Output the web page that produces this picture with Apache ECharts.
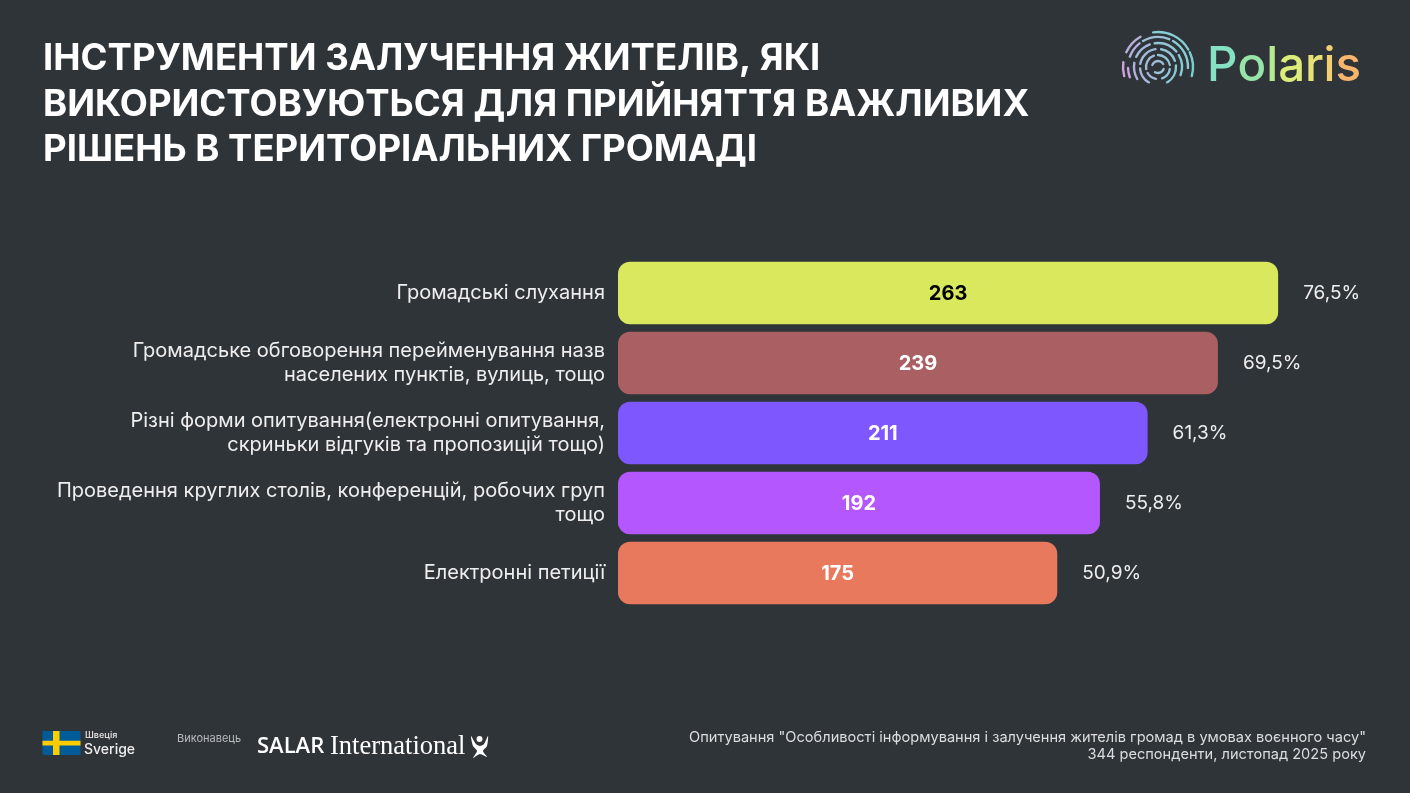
<!DOCTYPE html>
<html>
<head>
<meta charset="utf-8">
<title>Polaris</title>
<style>
  html, body { margin: 0; padding: 0; background: #2f3439; }
  #chart { width: 1410px; height: 793px; }
</style>
</head>
<body>
<div id="chart"></div>
<script src="https://cdn.jsdelivr.net/npm/echarts@6/dist/echarts.min.js"></script>
<script>
var categories = [
  'Громадські слухання',
  'Громадське обговорення перейменування назв\nнаселених пунктів, вулиць, тощо',
  'Різні форми опитування(електронні опитування,\nскриньки відгуків та пропозицій тощо)',
  'Проведення круглих столів, конференцій, робочих груп\nтощо',
  'Електронні петиції'
];
var counts = [263, 239, 211, 192, 175];
var percents = ['76,5%', '69,5%', '61,3%', '55,8%', '50,9%'];
var barColors = ['#d9e85c', '#aa6063', '#7f57ff', '#b557ff', '#e9795c'];

var titleText = 'ІНСТРУМЕНТИ ЗАЛУЧЕННЯ ЖИТЕЛІВ, ЯКІ\nВИКОРИСТОВУЮТЬСЯ ДЛЯ ПРИЙНЯТТЯ ВАЖЛИВИХ\nРІШЕНЬ В ТЕРИТОРІАЛЬНИХ ГРОМАДІ';
var footerText = 'Опитування "Особливості інформування і залучення жителів громад в умовах воєнного часу"\n344 респонденти, листопад 2025 року';

var FONT = 'Inter, "Noto Sans", sans-serif';
var BG = '#2f3439';

// логотип: r, початок, кінець (градуси), колір
var logoArcs = [
  [35, 165, 188, '#d0a4da'], [35, 205, 240, '#b8aedc'], [35, 262, 330, '#86cdd4'], [35, 335, 375, '#79cfd0'],
  [30, 160, 178, '#c9a3dc'], [30, 200, 232, '#b3b0dc'], [30, 240, 292, '#9cc0d8'], [30, 300, 362, '#8accd4'],
  [24, 150, 190, '#b0b2dc'], [24, 205, 250, '#a4b8da'], [24, 262, 320, '#92c6d6'], [24, 330, 380, '#88cad4'],
  [18, 120, 175, '#a8b6da'], [18, 190, 262, '#a0bcd8'], [18, 280, 340, '#92c4d6'], [18, 355, 420, '#8cc8d4'],
  [12, 100, 150, '#a4bad8'], [12, 170, 250, '#a0bcd8'], [12, 270, 350, '#96c2d6'], [12, 10, 70, '#92c4d6'],
  [6, 200, 330, '#a0bcd8'], [6, 20, 120, '#9cc0d8']
];

// у текстів немає градієнта, тому колір по літерах
var logoLetters = ['P', 'o', 'l', 'a', 'r', 'i', 's'];
var logoColors = ['#86e0c2', '#98e4a8', '#b8e98e', '#dcec7a', '#e6e276', '#efcf72', '#f5b56c'];

var logoRich = {};
logoLetters.forEach(function (c, i) {
  logoRich['l' + i] = { fill: logoColors[i], font: '500 47.5px ' + FONT };
});
var logoText = logoLetters.map(function (c, i) { return '{l' + i + '|' + c + '}'; }).join('');

var graphicEls = logoArcs.map(function (a) {
  return {
    type: 'arc',
    z: 5,
    shape: { cx: 1158, cy: 67, r: a[0], startAngle: a[1] * Math.PI / 180, endAngle: a[2] * Math.PI / 180 },
    style: { stroke: a[3], lineWidth: 2.4, fill: null, lineCap: 'round' }
  };
});

graphicEls.push(
  // низ логотипа обрізаний
  { type: 'rect', z: 6, shape: { x: 1115, y: 83.5, width: 85, height: 30 }, style: { fill: BG } },
  {
    type: 'text', z: 7, x: 1207, y: 67,
    style: { text: logoText, rich: logoRich, font: '500 47.5px ' + FONT, textVerticalAlign: 'middle' }
  },
  // прапор
  { type: 'rect', z: 5, shape: { x: 42.5, y: 731, width: 38, height: 24 }, style: { fill: '#005b99' } },
  { type: 'rect', z: 6, shape: { x: 53, y: 731, width: 6.5, height: 24 }, style: { fill: '#fecc00' } },
  { type: 'rect', z: 6, shape: { x: 42.5, y: 740.8, width: 38, height: 4.8 }, style: { fill: '#fecc00' } },
  { type: 'text', z: 7, x: 85, y: 735, style: { text: 'Швеція', font: '600 9px ' + FONT, fill: '#d8d8d8', textVerticalAlign: 'middle' } },
  { type: 'text', z: 7, x: 84, y: 750, style: { text: 'Sverige', font: '500 14px ' + FONT, fill: '#eeeeee', textVerticalAlign: 'middle' } },
  { type: 'text', z: 7, x: 177, y: 739, style: { text: 'Виконавець', font: '400 11px ' + FONT, fill: '#b9bcbe', textVerticalAlign: 'middle' } },
  { type: 'text', z: 7, x: 257, y: 747, style: { text: 'SALAR', font: '600 22px "Open Sans", sans-serif', fill: '#ffffff', textVerticalAlign: 'middle' } },
  { type: 'text', z: 7, x: 330, y: 747, style: { text: 'International', font: '400 26.5px "Liberation Serif", serif', fill: '#ffffff', textVerticalAlign: 'middle' } },
  { type: 'circle', z: 7, shape: { cx: 479.5, cy: 739, r: 3 }, style: { fill: '#ffffff' } },
  {
    type: 'polygon', z: 7,
    shape: { smooth: 0.25, points: [[471, 736], [473, 746], [477, 751], [473, 758], [480, 754], [487, 757], [483, 751], [487, 746], [488, 736], [484, 744], [480, 746], [476, 744]] },
    style: { fill: '#ffffff' }
  },
  {
    type: 'text', z: 7, x: 1366, y: 746,
    style: { text: footerText, font: '400 14.6px ' + FONT, fill: '#dcdddf', textAlign: 'right', textVerticalAlign: 'middle', lineHeight: 17 }
  }
);

var chart = echarts.init(document.getElementById('chart'), null, { renderer: 'canvas' });
var option = {
  backgroundColor: BG,
  animation: false,
  title: {
    text: titleText,
    left: 43,
    top: 36.5,
    padding: 0,
    textStyle: { color: '#ffffff', fontFamily: FONT, fontWeight: 700, fontSize: 36.5, lineHeight: 45.5 }
  },
  grid: { left: 618, top: 258, width: 753, height: 350, containLabel: false },
  xAxis: { type: 'value', min: 0, max: 300, show: false },
  yAxis: {
    type: 'category',
    inverse: true,
    data: categories,
    axisLine: { show: false },
    axisTick: { show: false },
    axisLabel: { color: '#eeeeee', fontFamily: FONT, fontSize: 20, lineHeight: 24, align: 'right', margin: 13 }
  },
  series: [
    {
      type: 'bar',
      barWidth: 62.5,
      barGap: '-100%',
      data: counts.map(function (v, i) {
        return {
          value: v,
          itemStyle: { color: barColors[i] },
          label: { color: i === 0 ? '#000000' : '#ffffff' }
        };
      }),
      itemStyle: { borderRadius: 12 },
      label: { show: true, position: 'inside', fontFamily: FONT, fontWeight: 700, fontSize: 20, offset: [0, 0.5] }
    },
    {
      // лише підписи з відсотками
      type: 'bar',
      barWidth: 62.5,
      data: counts,
      itemStyle: { color: 'transparent' },
      label: {
        show: true,
        position: 'right',
        distance: 25,
        color: '#eeeeee',
        fontFamily: FONT,
        fontSize: 19,
        offset: [0, 0.5],
        formatter: function (p) { return percents[p.dataIndex]; }
      }
    }
  ],
  graphic: { elements: graphicEls }
};
chart.setOption(option);
</script>
</body>
</html>
